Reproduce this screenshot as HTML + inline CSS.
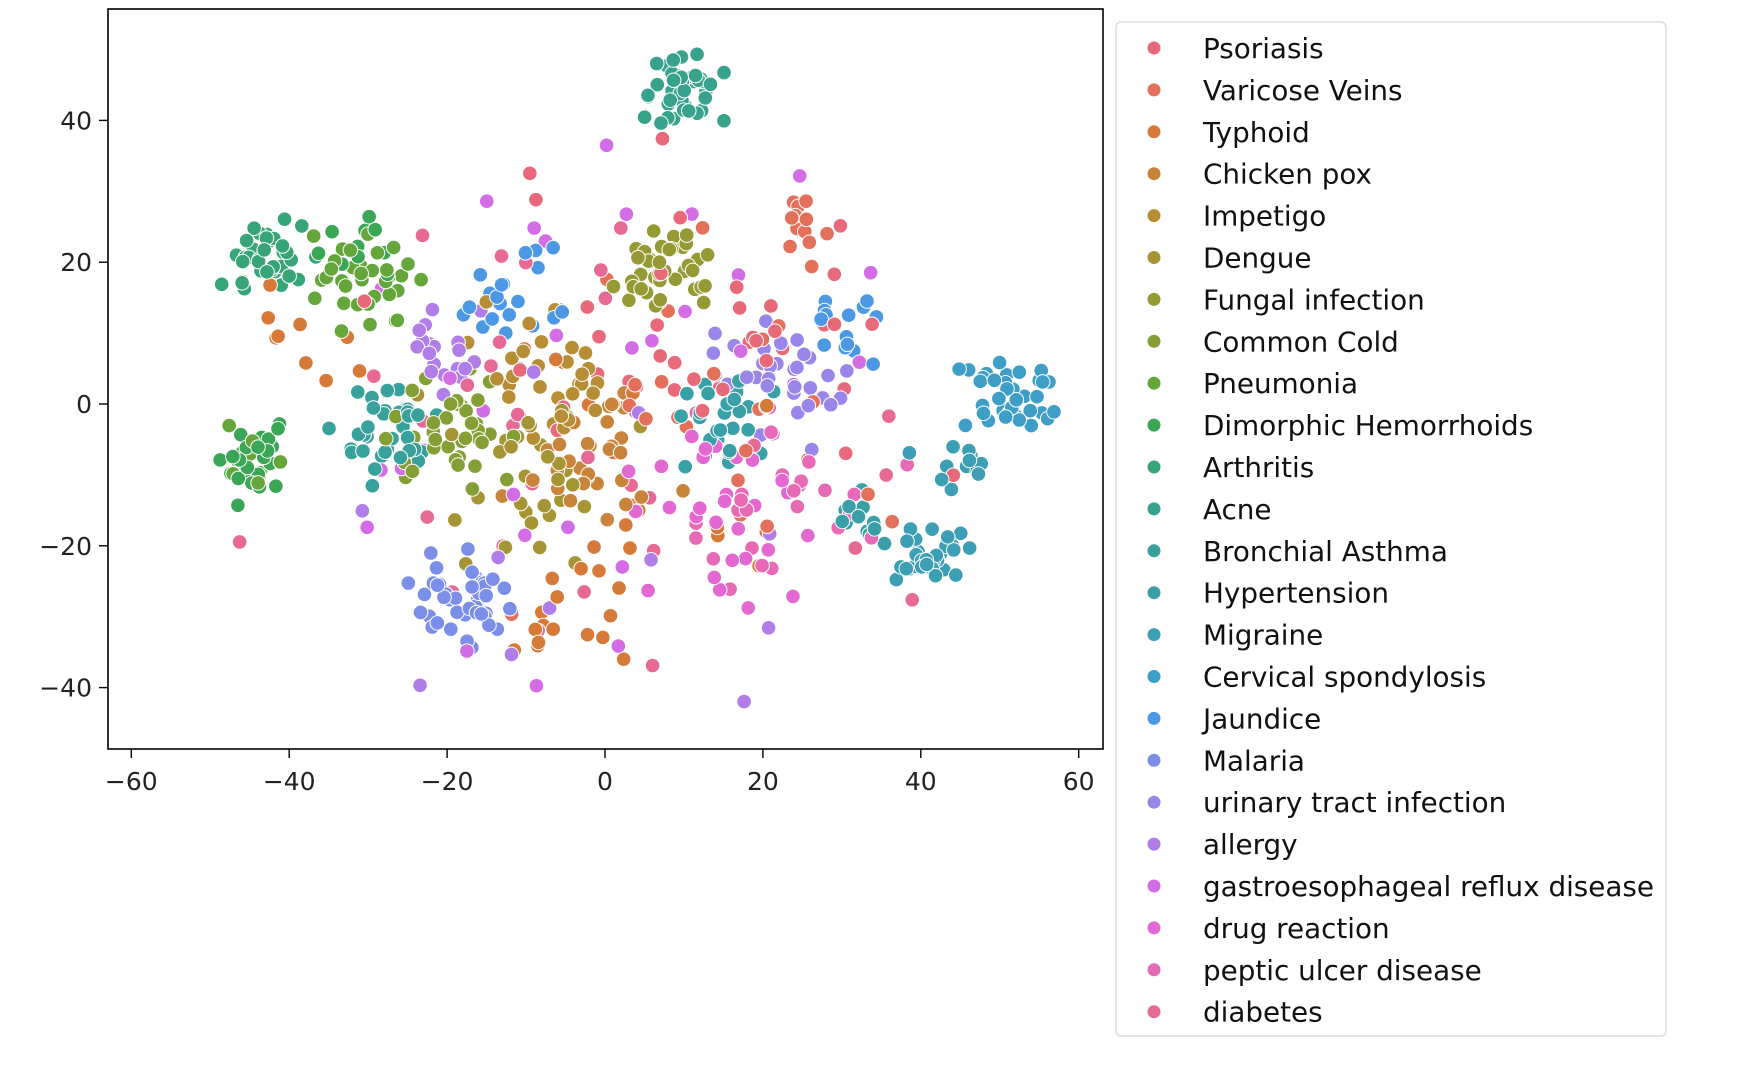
<!DOCTYPE html>
<html><head><meta charset="utf-8"><style>
body{margin:0;background:#fff;width:1748px;height:1064px;overflow:hidden;font-family:"DejaVu Sans","Liberation Sans",sans-serif;}
</style></head><body>
<svg id="s" width="1748" height="1064" xmlns="http://www.w3.org/2000/svg">
<defs><clipPath id="c"><rect x="108" y="9" width="995" height="740"/></clipPath></defs>
<g id="pts" clip-path="url(#c)"></g>
<rect x="108" y="9" width="995" height="740" fill="none" stroke="#000" stroke-width="1.6"/>
<g id="ax" font-size="25" fill="#222"></g>
<rect x="1116" y="22" width="550" height="1014" rx="5" fill="#fff" stroke="#ddd" stroke-width="1.5"/>
<g id="leg" font-size="27.8" fill="#111"></g>
</svg>
<script>
var names=["Psoriasis","Varicose Veins","Typhoid","Chicken pox","Impetigo","Dengue","Fungal infection","Common Cold","Pneumonia","Dimorphic Hemorrhoids","Arthritis","Acne","Bronchial Asthma","Hypertension","Migraine","Cervical spondylosis","Jaundice","Malaria","urinary tract infection","allergy","gastroesophageal reflux disease","drug reaction","peptic ulcer disease","diabetes"];
var cols=["#e7697a","#e3705a","#d67a3a","#c8843a","#b78e36","#a69535","#969a34","#849f36","#64a63a","#3ba756","#38a579","#38a28d","#39a19b","#3aa0a7","#3c9fb4","#3e9ec6","#4c98e4","#7b8ee8","#9a86e8","#b17de8","#d26de6","#e468d2","#e66ab5","#e76a96"];
var NS="http://www.w3.org/2000/svg";
function X(v){return 605+v*7.895}function Y(v){return 404-v*7.09}
var seed=11;function r(){seed=(seed*16807)%2147483647;return seed/2147483647}
function g(){return (r()+r()+r()-1.5)*1.4}
var cl={0:[[10,10,20,40]],1:[[25,26,2,10],[15,0,16,25]],2:[[-5,-30,7,16],[-40,8,7,10],[5,-10,16,14]],3:[[-2,-8,7,32]],4:[[-5,5,7,34]],5:[[-10,-10,9,30]],6:[[8,19,4.5,40]],7:[[-20,-3,6,38]],8:[[-30,17,4.5,36],[-44,-8,3,10]],9:[[-44,-8,3.5,28],[-30,22,3.5,10]],10:[[-43,21,3.5,36]],11:[[10,44,3.5,40]],12:[[-28,-3,4.5,36]],13:[[15,-2,5,26],[33,-15,3,12]],14:[[41,-22,3.5,36],[45,-7,3.5,12]],15:[[50,1,4.5,36]],16:[[-13,15,4.5,20],[30,10,3.5,14]],17:[[-18,-27,4,42]],18:[[22,3,6,32]],19:[[-20,6,5,18],[0,-20,25,12]],20:[[0,0,30,32]],21:[[15,-15,9,30]],22:[[22,-15,11,26]],23:[[0,0,28,32]]};
var P=[];
for(var k in cl){cl[k].forEach(function(c){for(var i=0;i<c[3];i++){var x=c[0]+g()*c[2],y=c[1]+g()*c[2];if(k!=11&&(x/58)*(x/58)+((y+2)/44)*((y+2)/44)>1){i--;continue;}P.push([x,y,+k]);}});}
for(var i=P.length-1;i>0;i--){var j=Math.floor(r()*(i+1));var t=P[i];P[i]=P[j];P[j]=t;}
var pg=document.getElementById("pts");
P.forEach(function(p){var e=document.createElementNS(NS,"circle");e.setAttribute("cx",X(p[0]));e.setAttribute("cy",Y(p[1]));e.setAttribute("r",7.3);e.setAttribute("fill",cols[p[2]]);e.setAttribute("stroke","#fff");e.setAttribute("stroke-width","1");pg.appendChild(e);});
var ax=document.getElementById("ax");
function txt(par,x,y,s,anchor){var e=document.createElementNS(NS,"text");e.setAttribute("x",x);e.setAttribute("y",y);if(anchor)e.setAttribute("text-anchor",anchor);e.textContent=s;par.appendChild(e);}
function ln(x1,y1,x2,y2){var e=document.createElementNS(NS,"line");e.setAttribute("x1",x1);e.setAttribute("y1",y1);e.setAttribute("x2",x2);e.setAttribute("y2",y2);e.setAttribute("stroke","#000");e.setAttribute("stroke-width","1.4");ax.appendChild(e);}
[-60,-40,-20,0,20,40,60].forEach(function(v){ln(X(v),749,X(v),758);txt(ax,X(v),790,(v<0?"\u2212":"")+Math.abs(v),"middle");});
[-40,-20,0,20,40].forEach(function(v){ln(99,Y(v),108,Y(v));txt(ax,92,Y(v)+9,(v<0?"\u2212":"")+Math.abs(v),"end");});
var lg=document.getElementById("leg");
names.forEach(function(n,i){var y=48+i*41.9;var e=document.createElementNS(NS,"circle");e.setAttribute("cx",1154);e.setAttribute("cy",y);e.setAttribute("r",7);e.setAttribute("fill",cols[i]);e.setAttribute("stroke","#fff");lg.appendChild(e);txt(lg,1203,y+10,n);});
</script>
</body></html>
